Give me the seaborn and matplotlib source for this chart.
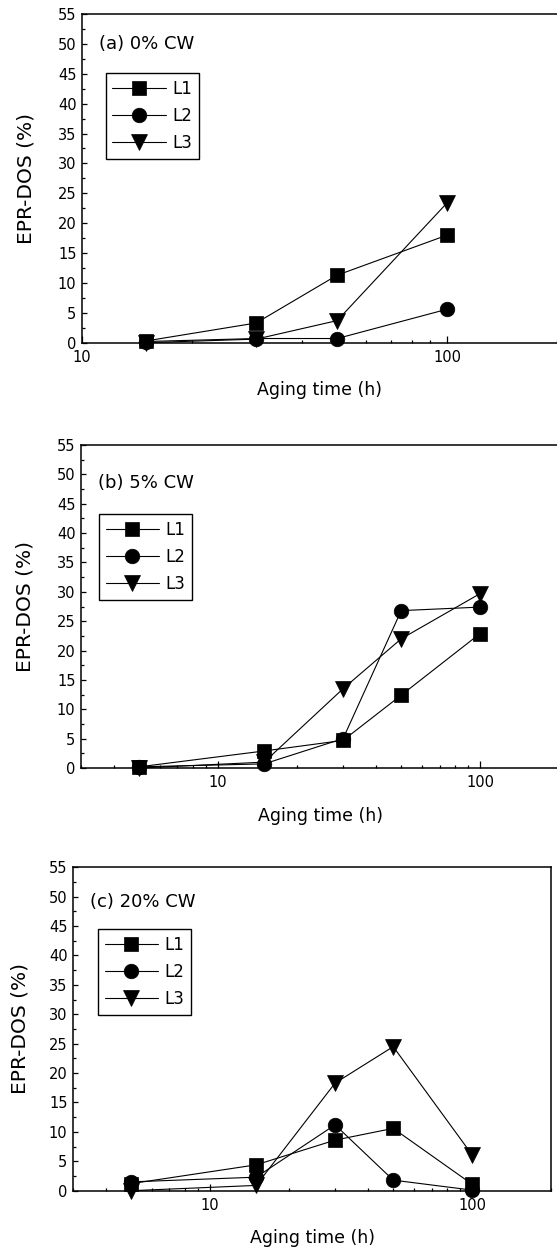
import pandas as pd
import matplotlib
matplotlib.use("Agg")
import matplotlib.pyplot as plt
from matplotlib.ticker import LogLocator, NullFormatter, MultipleLocator
import seaborn as sns

sns.set_style("ticks")
plt.rcParams['font.family'] = ['DejaVu Sans']
plt.rcParams['text.color'] = 'black'
plt.rcParams['axes.labelcolor'] = 'black'
plt.rcParams['xtick.color'] = 'black'
plt.rcParams['ytick.color'] = 'black'

# Data (aging time in h, EPR-DOS in %)
series_names = ['L1', 'L2', 'L3']
markers = {'L1': 's', 'L2': 'o', 'L3': 'v'}
marker_sizes = {'L1': 10, 'L2': 10.5, 'L3': 11}

time_a = [15, 30, 50, 100]
dos_a_L1 = [0.3, 3.3, 11.3, 18.0]
dos_a_L2 = [0.2, 0.7, 0.7, 5.6]
dos_a_L3 = [0.0, 0.6, 3.7, 23.4]

time_b = [5, 15, 30, 50, 100]
dos_b_L1 = [0.2, 2.9, 4.7, 12.4, 22.9]
dos_b_L2 = [0.2, 0.7, 5.0, 26.8, 27.4]
dos_b_L3 = [0.0, 1.0, 13.5, 22.0, 29.7]

time_c = [5, 15, 30, 50, 100]
dos_c_L1 = [1.2, 4.4, 8.6, 10.6, 1.1]
dos_c_L2 = [1.5, 2.3, 11.2, 1.8, 0.1]
dos_c_L3 = [0.0, 0.9, 18.3, 24.5, 6.1]

panel_titles = ['(a) 0% CW', '(b) 5% CW', '(c) 20% CW']

panels = [
    (time_a, [dos_a_L1, dos_a_L2, dos_a_L3]),
    (time_b, [dos_b_L1, dos_b_L2, dos_b_L3]),
    (time_c, [dos_c_L1, dos_c_L2, dos_c_L3]),
]

# layout in pixels (fig 557x1247)
W, H = 557, 1247
boxes = [(82, 14, 475, 328.7), (81, 445, 478, 323), (73, 867.3, 478, 323.4)]
xlims = [(10, 200), (3, 200), (3, 200)]
title_y = [0.91, 0.882, 0.893]
leg_anchor = [(0.05, 0.82), (0.038, 0.786), (0.052, 0.809)]
ylabel_pad = [16, 16, 14]

fig = plt.figure(figsize=(W / 100, H / 100), dpi=100)

for i, ((times, vals), (l, t, w, h)) in enumerate(zip(panels, boxes)):
    ax = fig.add_axes([l / W, 1 - (t + h) / H, w / W, h / H])
    rows = []
    for name, v in zip(series_names, vals):
        for x, y in zip(times, v):
            rows.append({'time': x, 'dos': y, 'series': name})
    df = pd.DataFrame(rows)
    for name in series_names:
        sub = df[df['series'] == name]
        sns.lineplot(data=sub, x='time', y='dos', ax=ax, color='black',
                     marker=markers[name], markersize=marker_sizes[name],
                     markeredgecolor='black', markeredgewidth=0.5,
                     linewidth=0.8, label=name, clip_on=False, zorder=3)
    ax.set_xscale('log')
    ax.set_xlim(*xlims[i])
    ax.set_ylim(0, 55)
    ax.set_xticks([10, 100])
    ax.set_xticklabels(['10', '100'])
    ax.xaxis.set_minor_locator(LogLocator(base=10, subs=range(2, 10)))
    ax.xaxis.set_minor_formatter(NullFormatter())
    ax.yaxis.set_major_locator(MultipleLocator(5))
    ax.yaxis.set_minor_locator(MultipleLocator(2.5))
    ax.tick_params(which='both', direction='in', top=False, right=False,
                   labelsize=10.5, width=0.9, color='black', labelcolor='black')
    ax.tick_params(axis='x', which='major', length=5, pad=5)
    ax.tick_params(axis='x', which='minor', length=2.2)
    ax.tick_params(axis='y', which='major', length=3.8, pad=4)
    ax.tick_params(axis='y', which='minor', length=2.4)
    for s in ax.spines.values():
        s.set_linewidth(1.1)
        s.set_color('black')
    if i < 2:
        ax.spines['right'].set_visible(False)
    ax.set_xlabel('Aging time (h)', fontsize=12.5, labelpad=12, color='black')
    ax.set_ylabel('EPR-DOS (%)', fontsize=14.5, labelpad=ylabel_pad[i],
                  color='black')
    ax.text(0.035, title_y[i], panel_titles[i], transform=ax.transAxes,
            fontsize=13, va='center', ha='left', color='black')
    leg = ax.legend(loc='upper left', bbox_to_anchor=leg_anchor[i],
                    borderaxespad=0, fontsize=12, frameon=True,
                    fancybox=False, edgecolor='black', framealpha=1,
                    handlelength=3.2, handletextpad=0.4, borderpad=0.4,
                    labelspacing=0.55, numpoints=1)
    leg.get_frame().set_linewidth(1.0)
    for txt in leg.get_texts():
        txt.set_color('black')

fig.savefig('out.png', dpi=100)
